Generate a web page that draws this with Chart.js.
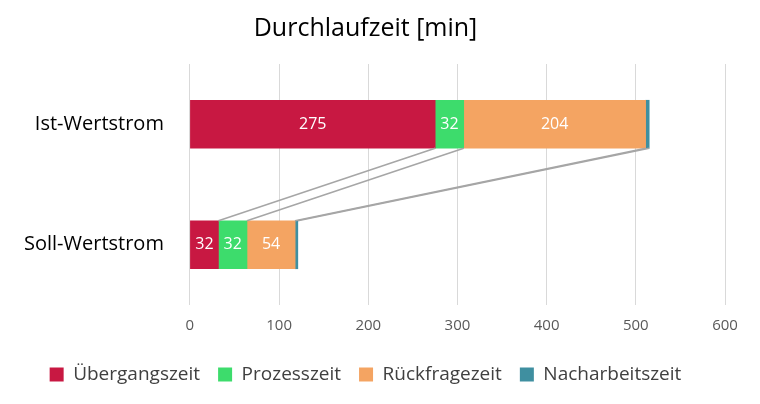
<!DOCTYPE html>
<html><head><meta charset="utf-8">
<script src="https://cdn.jsdelivr.net/npm/chart.js@4"></script>
<style>html,body{margin:0;background:#fff}#w{width:760px;height:404px}</style>
</head><body><div id="w"><canvas id="c"></canvas></div>
<script>
const categories=["Ist-Wertstrom","Soll-Wertstrom"];
const uebergang=[275,32];
const prozess=[32,32];
const rueckfrage=[204,54];
const nacharbeit=[4,3];
const seriesNames=["Übergangszeit","Prozesszeit","Rückfragezeit","Nacharbeitszeit"];
const colors=["#c81842","#3ddc6c","#f4a462","#3f8fa0"];
const F="'Open Sans', sans-serif";
const connectors={id:'conn',afterDatasetsDraw(ch){
  const ctx=ch.ctx,x=ch.scales.x;
  const m0=ch.getDatasetMeta(0).data, h0=m0[0].height, h1=m0[1].height;
  const yTop=m0[0].y+h0/2, yBot=m0[1].y-h1/2;
  const ist=[uebergang[0],uebergang[0]+prozess[0],uebergang[0]+prozess[0]+rueckfrage[0],uebergang[0]+prozess[0]+rueckfrage[0]+nacharbeit[0]];
  const soll=[uebergang[1],uebergang[1]+prozess[1],uebergang[1]+prozess[1]+rueckfrage[1],uebergang[1]+prozess[1]+rueckfrage[1]+nacharbeit[1]];
  ctx.save();ctx.strokeStyle='#a6a6a6';ctx.lineWidth=1.5;
  for(let i=0;i<4;i++){ctx.beginPath();ctx.moveTo(x.getPixelForValue(ist[i]),yTop);ctx.lineTo(x.getPixelForValue(soll[i]),yBot);ctx.stroke();}
  ctx.restore();
  ctx.save();ctx.fillStyle='#fff';ctx.font='16px '+F;ctx.textAlign='center';ctx.textBaseline='middle';
  for(let d=0;d<3;d++){const meta=ch.getDatasetMeta(d);meta.data.forEach((b,i)=>{
    const v=ch.data.datasets[d].data[i];ctx.fillText(String(v),(b.x+b.base)/2,b.y);});}
  ctx.restore();
}};
new Chart(document.getElementById('c'),{type:'bar',
 data:{labels:categories,datasets:[uebergang,prozess,rueckfrage,nacharbeit].map((d,i)=>({label:seriesNames[i],data:d,backgroundColor:colors[i],barThickness:48}))},
 options:{indexAxis:'y',responsive:true,maintainAspectRatio:false,animation:false,
  layout:{padding:{left:6,right:35,top:0,bottom:10}},
  scales:{x:{stacked:true,min:0,max:600,ticks:{stepSize:100,color:'#595959',font:{family:F,size:15},padding:12},grid:{color:'#d9d9d9',drawTicks:false},border:{display:false}},
   y:{stacked:true,ticks:{color:'#000',font:{family:F,size:20},padding:18},grid:{display:false},border:{display:false}}},
  plugins:{title:{display:true,text:'Durchlaufzeit [min]',color:'#000',font:{family:F,size:25,weight:'normal'},padding:{top:14,bottom:20}},
   legend:{position:'bottom',labels:{color:'#404040',font:{family:F,size:19},boxWidth:14,boxHeight:14,padding:18}},tooltip:{enabled:false}}},
 plugins:[connectors]});
</script></body></html>
